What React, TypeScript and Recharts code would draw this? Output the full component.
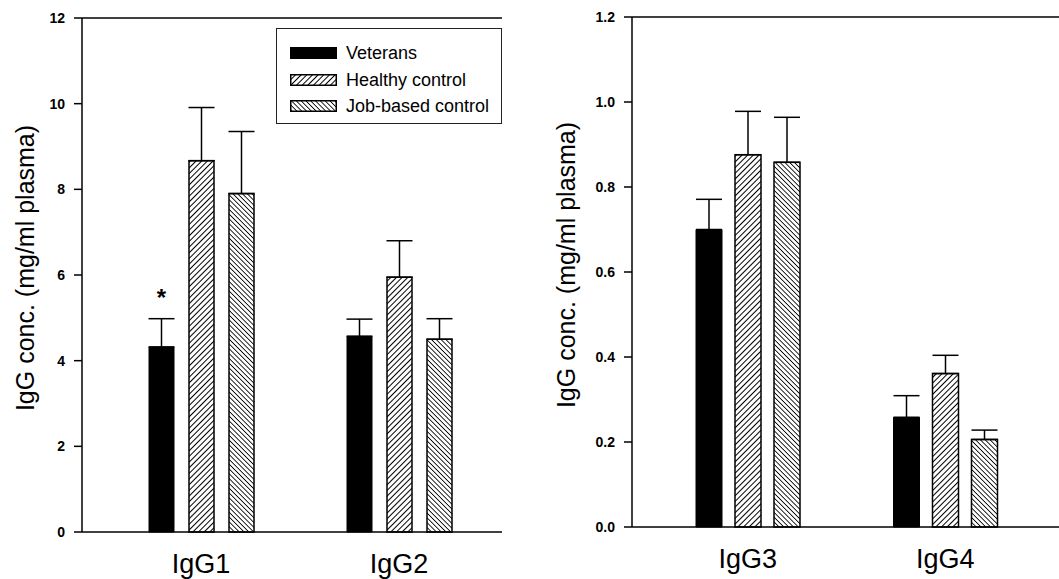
import React from "react";
import {
    Bar,
    BarChart,
    ErrorBar,
    LabelList,
    ReferenceLine,
    XAxis,
    YAxis,
} from "recharts";

const leftCategories = ["IgG1", "IgG2"];
const leftVeterans = [4.32, 4.57];
const leftVeteransErr = [0.66, 0.4];
const leftHealthy = [8.67, 5.95];
const leftHealthyErr = [1.24, 0.85];
const leftJob = [7.9, 4.5];
const leftJobErr = [1.45, 0.48];
const veteranMarks = ["*", ""];
const leftTicks = [0, 2, 4, 6, 8, 10, 12];

const rightCategories = ["IgG3", "IgG4"];
const rightVeterans = [0.7, 0.258];
const rightVeteransErr = [0.071, 0.051];
const rightHealthy = [0.876, 0.361];
const rightHealthyErr = [0.102, 0.043];
const rightJob = [0.858, 0.206];
const rightJobErr = [0.106, 0.022];
const rightTicks = [0, 0.2, 0.4, 0.6, 0.8, 1.0, 1.2];

const seriesNames = ["Veterans", "Healthy control", "Job-based control"];
const yTitle = "IgG conc. (mg/ml plasma)";

const FONT = "'Liberation Sans', Arial, Helvetica, sans-serif";
const INK = "#000";

function buildRows(
    cats: string[],
    vet: number[],
    vetErr: number[],
    hc: number[],
    hcErr: number[],
    job: number[],
    jobErr: number[],
    marks?: string[],
) {
    return cats.map((cat, i) => ({
        cat,
        vet: vet[i],
        vetErr: [0, vetErr[i]],
        hc: hc[i],
        hcErr: [0, hcErr[i]],
        job: job[i],
        jobErr: [0, jobErr[i]],
        mark: marks ? marks[i] : "",
    }));
}

const leftRows = buildRows(
    leftCategories,
    leftVeterans,
    leftVeteransErr,
    leftHealthy,
    leftHealthyErr,
    leftJob,
    leftJobErr,
    veteranMarks,
);
const rightRows = buildRows(
    rightCategories,
    rightVeterans,
    rightVeteransErr,
    rightHealthy,
    rightHealthyErr,
    rightJob,
    rightJobErr,
);

function PatternDefs() {
    return (
        <svg width={0} height={0} style={{ position: "absolute" }}>
            <defs>
                <pattern
                    id="hatchFwd"
                    patternUnits="userSpaceOnUse"
                    width={4}
                    height={4}
                    patternTransform="rotate(45)"
                >
                    <rect width={4} height={4} fill="#fff" />
                    <line x1={0} y1={0} x2={0} y2={4} stroke={INK} strokeWidth={2} />
                </pattern>
                <pattern
                    id="hatchBack"
                    patternUnits="userSpaceOnUse"
                    width={3.4}
                    height={3.4}
                    patternTransform="rotate(-45)"
                >
                    <rect width={3.4} height={3.4} fill="#fff" />
                    <line x1={0} y1={0} x2={0} y2={3.4} stroke={INK} strokeWidth={1.7} />
                </pattern>
            </defs>
        </svg>
    );
}

const fills = [INK, "url(#hatchFwd)", "url(#hatchBack)"];

function Swatch({ fill }: { fill: string }) {
    return (
        <svg width={47} height={12} style={{ display: "block" }}>
            <rect x={0.75} y={0.75} width={45.5} height={10.5} fill={fill} stroke={INK} strokeWidth={1.5} />
        </svg>
    );
}

function LegendBox() {
    return (
        <div
            style={{
                position: "absolute",
                left: 276,
                top: 28,
                width: 226,
                height: 96,
                border: "1px solid #222",
                boxSizing: "border-box",
                background: "#fff",
                fontFamily: FONT,
                fontSize: 18,
                color: INK,
                paddingTop: 11,
            }}
        >
            {seriesNames.map((name, i) => (
                <div
                    key={name}
                    style={{
                        display: "flex",
                        alignItems: "center",
                        height: 26.5,
                        paddingLeft: 13,
                    }}
                >
                    <Swatch fill={fills[i]} />
                    <span style={{ marginLeft: 9, lineHeight: 1 }}>{name}</span>
                </div>
            ))}
        </div>
    );
}

function Panel({
    rows,
    domainMax,
    ticks,
    fmt,
    width,
    top,
    xHeight,
    yWidth,
    padLeft,
    padRight,
    barSize,
    barGap,
    titleDx,
    marked,
}: {
    rows: ReturnType<typeof buildRows>;
    domainMax: number;
    ticks: number[];
    fmt: (v: number) => string;
    width: number;
    top: number;
    xHeight: number;
    yWidth: number;
    padLeft: number;
    padRight: number;
    barSize: number;
    barGap: number;
    titleDx: number;
    marked?: boolean;
}) {
    return (
        <BarChart
            width={width}
            height={579}
            data={rows}
            margin={{ top, right: 0, bottom: 0, left: 0 }}
            barSize={barSize}
            barGap={barGap}
            style={{ fontFamily: FONT }}
        >
            <ReferenceLine y={domainMax} stroke={INK} strokeWidth={1.5} ifOverflow="extendDomain" />
            <XAxis
                dataKey="cat"
                height={xHeight}
                padding={{ left: padLeft, right: padRight }}
                tickLine={false}
                axisLine={{ stroke: INK, strokeWidth: 1.5 }}
                tickMargin={16}
                tick={{ fill: INK, fontSize: 27, fontFamily: FONT }}
            />
            <YAxis
                width={yWidth}
                domain={[0, domainMax]}
                ticks={ticks}
                tickFormatter={fmt}
                tickSize={8}
                tickMargin={9}
                axisLine={{ stroke: INK, strokeWidth: 1.5 }}
                tickLine={{ stroke: INK, strokeWidth: 1.5 }}
                tick={{ fill: INK, fontSize: 14, fontWeight: "bold", fontFamily: FONT }}
                label={{
                    value: yTitle,
                    angle: -90,
                    position: "center",
                    dx: titleDx,
                    dy: -7,
                    style: { fill: INK, fontSize: 25, fontFamily: FONT, textAnchor: "middle" },
                }}
            />
            <Bar dataKey="vet" name={seriesNames[0]} fill={fills[0]} stroke={INK} strokeWidth={1} isAnimationActive={false}>
                <ErrorBar dataKey="vetErr" direction="y" width={13} stroke={INK} strokeWidth={1.5} isAnimationActive={false} />
                {marked ? (
                    <LabelList
                        dataKey="mark"
                        position="top"
                        offset={41}
                        fill={INK}
                        fontSize={24}
                        fontWeight="bold"
                        fontFamily={FONT}
                    />
                ) : null}
            </Bar>
            <Bar dataKey="hc" name={seriesNames[1]} fill={fills[1]} stroke={INK} strokeWidth={1.5} isAnimationActive={false}>
                <ErrorBar dataKey="hcErr" direction="y" width={13} stroke={INK} strokeWidth={1.5} isAnimationActive={false} />
            </Bar>
            <Bar dataKey="job" name={seriesNames[2]} fill={fills[2]} stroke={INK} strokeWidth={1.5} isAnimationActive={false}>
                <ErrorBar dataKey="jobErr" direction="y" width={13} stroke={INK} strokeWidth={1.5} isAnimationActive={false} />
            </Bar>
        </BarChart>
    );
}

export default function App() {
    return (
        <div
            style={{
                position: "absolute",
                left: 0,
                top: 0,
                width: 1059,
                height: 579,
                background: "#fff",
                overflow: "hidden",
            }}
        >
            <PatternDefs />
            <div style={{ position: "absolute", left: 0, top: 0 }}>
                <Panel
                    rows={leftRows}
                    domainMax={12}
                    ticks={leftTicks}
                    fmt={(v) => String(v)}
                    width={502}
                    top={18}
                    xHeight={47}
                    yWidth={82}
                    padLeft={20}
                    padRight={4}
                    barSize={25}
                    barGap={15}
                    titleDx={-16}
                    marked
                />
            </div>
            <div style={{ position: "absolute", left: 540, top: 0 }}>
                <Panel
                    rows={rightRows}
                    domainMax={1.2}
                    ticks={rightTicks}
                    fmt={(v) => v.toFixed(1)}
                    width={519}
                    top={17}
                    xHeight={52}
                    yWidth={92}
                    padLeft={17}
                    padRight={15}
                    barSize={26}
                    barGap={13}
                    titleDx={-20}
                />
            </div>
            <LegendBox />
        </div>
    );
}
